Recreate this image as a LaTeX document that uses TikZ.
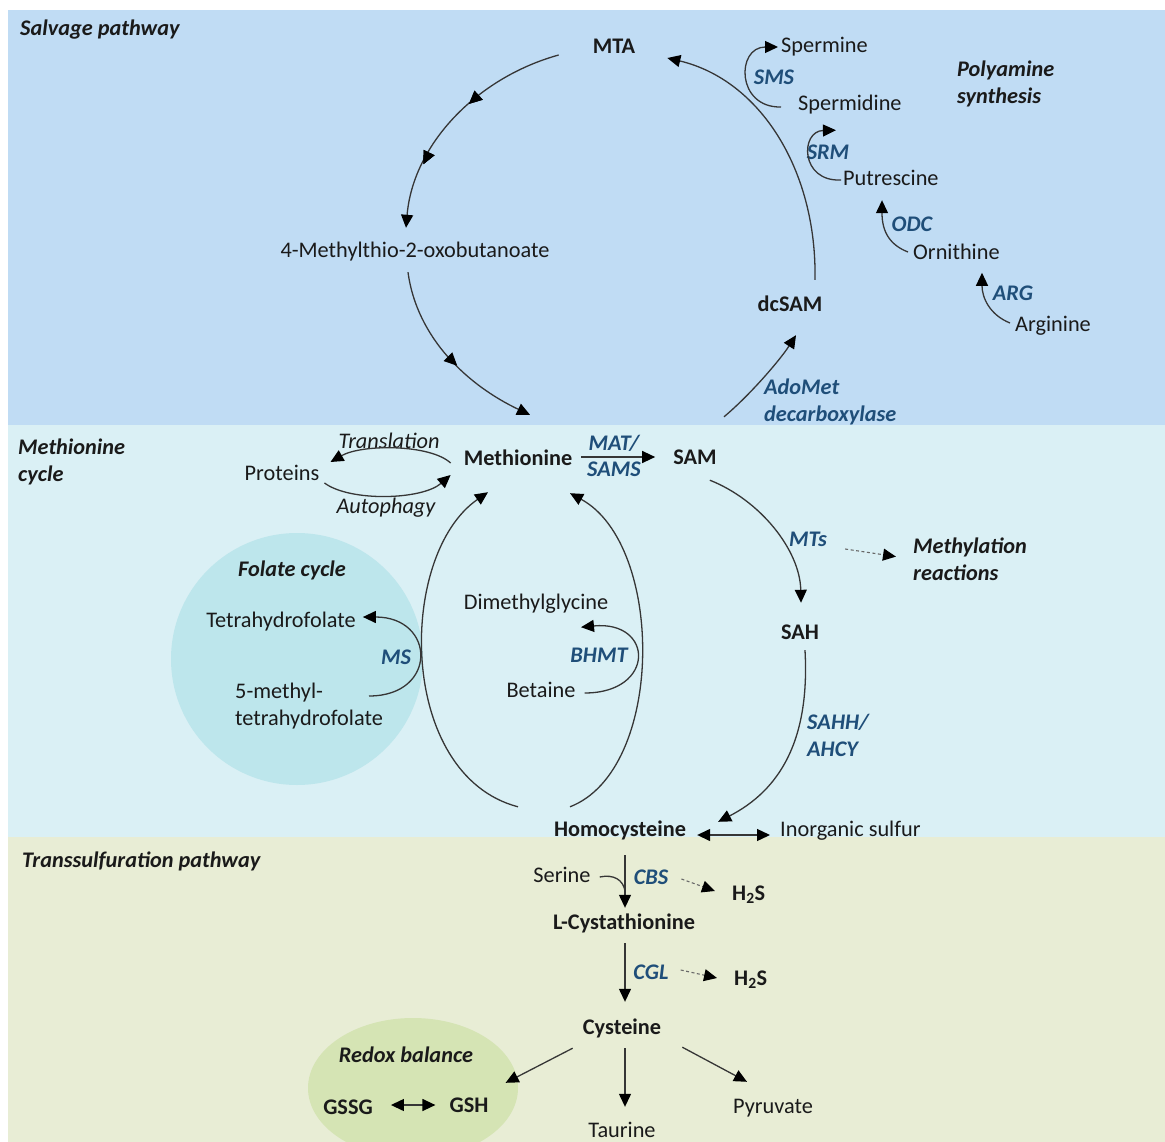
\documentclass[tikz,border=0pt]{standalone}
\usepackage{fontspec}
\setmainfont{Carlito}
\usetikzlibrary{arrows.meta,decorations.markings}
\definecolor{salvbg}{HTML}{C0DCF4}
\definecolor{metbg}{HTML}{DAF0F5}
\definecolor{transbg}{HTML}{E8EDD5}
\definecolor{folbg}{HTML}{BDE6EC}
\definecolor{redbg}{HTML}{D5E4B4}
\definecolor{enz}{HTML}{1F4E79}
\definecolor{ink}{HTML}{1A1A1A}
\definecolor{lncol}{HTML}{363636}
\newcommand{\fsz}{\fontsize{22.3}{27}\selectfont}
\begin{document}
\begin{tikzpicture}[x=1pt,y=-1pt,
  every node/.style={inner sep=0pt,text=ink,font=\fsz},
  txt/.style={text height=14pt,text depth=0pt},
  bld/.style={txt,font=\fsz\bfseries},
  itx/.style={txt,font=\fsz\itshape},
  bix/.style={txt,font=\fsz\bfseries\itshape},
  enzy/.style={txt,font=\fsz\bfseries\itshape,text=enz},
  mlbi/.style={align=left,anchor=north west,font=\fsz\bfseries\itshape},
  plain/.style={draw=lncol,line width=1.3pt},
  arr/.style={plain,-{Triangle[length=13pt,width=12pt,color=black]}},
  darr/.style={plain,{Triangle[length=13pt,width=12pt,color=black]}-{Triangle[length=13pt,width=12pt,color=black]}},
  dsh/.style={draw=lncol!75,line width=1.1pt,dash pattern=on 3pt off 2.5pt,-{Triangle[length=13pt,width=12pt,color=black]}},
  midarr/.style={postaction={decorate},decoration={markings,
     mark=at position #1 with {\arrow{Triangle[length=13pt,width=12pt,color=black]}}}}
]
\useasboundingbox (0,0) rectangle (1165,1142);
\fill[white] (0,0) rectangle (1165,1142);
% panels
\fill[salvbg] (8,10) rectangle (1165,425);
\fill[metbg] (8,425) rectangle (1165,837);
\fill[transbg] (8,837) rectangle (1165,1142);
\fill[folbg] (297,659) ellipse [x radius=126, y radius=126];
\fill[redbg] (413,1088) ellipse [x radius=105, y radius=70];

% ---------- Salvage pathway ----------
\node[bix,anchor=west] (salv) at (20,29) {Salvage pathway};
\node[bld] (mta) at (614,47) {MTA};
\node[txt,anchor=west] (spermine) at (781,46) {Spermine};
\node[enzy] (sms) at (774,78) {SMS};
\node[txt,anchor=west] (spermidine) at (798,104) {Spermidine};
\node[enzy] (srm) at (828,153) {SRM};
\node[txt,anchor=west] (putrescine) at (843,179) {Putrescine};
\node[enzy] (odc) at (912,225) {ODC};
\node[txt,anchor=west] (ornithine) at (913,252) {Ornithine};
\node[enzy] (arg) at (1013,293) {ARG};
\node[txt,anchor=west] (arginine) at (1015,324) {Arginine};
\node[bld] (dcsam) at (790,305) {dcSAM};
\node[mlbi,text=enz] (adomet) at (764,379) {AdoMet\\decarboxylase};
\node[mlbi] (polyamine) at (957,61) {Polyamine\\synthesis};
\node[txt] (mtob) at (415,251) {4-Methylthio-2-oxobutanoate};

% ---------- Methionine cycle ----------
\node[mlbi] (metcyc) at (18,439) {Methionine\\cycle};
\node[itx] (translation) at (389,441) {Translation};
\node[txt] (proteins) at (282,473) {Proteins};
\node[itx] (autophagy) at (386,506) {Autophagy};
\node[bld] (methionine) at (518,458) {Methionine};
\node[enzy] (mat) at (614,443) {MAT/};
\node[enzy] (sams) at (614,469) {SAMS};
\node[bld] (sam) at (695,457) {SAM};
\node[enzy] (mts) at (808,539) {MTs};
\node[mlbi] (methylation) at (913,538) {Methylation\\reactions};
\node[bld] (sah) at (800,632) {SAH};
\node[mlbi,text=enz] (sahh) at (807,714) {SAHH/\\AHCY};
\node[bix] (folatecycle) at (292,569) {Folate cycle};
\node[txt] (thf) at (281,620) {Tetrahydrofolate};
\node[enzy] (ms) at (396,657) {MS};
\node[align=left,anchor=north west] (mthf) at (235,683) {5-methyl-\\tetrahydrofolate};
\node[txt] (dmg) at (536,602) {Dimethylglycine};
\node[enzy] (bhmt) at (599,655) {BHMT};
\node[txt] (betaine) at (541,690) {Betaine};
\node[bld] (homocys) at (620,829) {Homocysteine};
\node[txt,anchor=west] (inorg) at (780,829) {Inorganic sulfur};

% ---------- Transsulfuration ----------
\node[bix,anchor=west] (transs) at (22,860) {Transsulfuration pathway};
\node[txt] (serine) at (562,875) {Serine};
\node[enzy] (cbs) at (651,877) {CBS};
\node[bld,anchor=west] (h2sa) at (732,893) {H\textsubscript{2}S};
\node[bld] (lcys) at (624,922) {L-Cystathionine};
\node[enzy] (cgl) at (651,972) {CGL};
\node[bld,anchor=west] (h2sb) at (734,978) {H\textsubscript{2}S};
\node[bld] (cysteine) at (622,1027) {Cysteine};
\node[bix] (redox) at (406,1055) {Redox balance};
\node[bld] (gssg) at (348,1107) {GSSG};
\node[bld] (gsh) at (469,1105) {GSH};
\node[txt] (taurine) at (622,1130) {Taurine};
\node[txt] (pyruvate) at (773,1106) {Pyruvate};

% ---------- connectors: salvage ----------
\draw[arr,midarr=0.42,midarr=0.73] ([shift={(-34,8)}]mta.west) .. controls (476,78) and (413,145) .. ([shift={(-9,-16)}]mtob.north);
\draw[arr,midarr=0.55] ([shift={(-7,14)}]mtob.south) .. controls (417,339) and (469,386) .. ([shift={(12,-36)}]methionine.north);
\draw[arr] ([shift={(29,-33)}]sam.north) .. controls (750,395) and (780,360) .. ([shift={(6,23)}]dcsam.south);
\draw[arr] ([shift={(25,-18)}]dcsam.north) .. controls (817,170) and (760,80) .. ([shift={(32,11)}]mta.east);
\draw[arr] ([shift={(-17,3)}]spermidine.west) .. controls (736,108) and (736,47) .. ([shift={(-3,1)}]spermine.west);
\draw[arr] ([shift={(-2,1)}]putrescine.west) .. controls (800,182) and (800,131) .. ([shift={(-14,19)}]spermidine.south);
\draw[arr] ([shift={(-5,0)}]ornithine.west) .. controls (890,245) and (882,232) .. ([shift={(39,14)}]putrescine.south west);
\draw[arr] ([shift={(-5,-1)}]arginine.west) .. controls (990,315) and (982,298) .. ([shift={(-31,-13)}]arg.north);

% ---------- connectors: methionine cycle ----------
\draw[arr] ([shift={(-13,5)}]methionine.west) .. controls (430,444) and (362,444) .. ([shift={(11,-11)}]proteins.east);
\draw[arr] ([shift={(5,10)}]proteins.east) .. controls (350,502) and (422,500) .. ([shift={(-13,17)}]methionine.west);
\draw[arr] ([shift={(9,-1)}]methionine.east) -- ([shift={(-18,0)}]sam.west);
\draw[arr] ([shift={(-102,-15)}]homocys.north) .. controls (397,775) and (397,555) .. ([shift={(-30,27)}]methionine.south);
\draw[arr] ([shift={(-50,-15)}]homocys.north) .. controls (665,770) and (665,545) .. ([shift={(52,28)}]methionine.south);
\draw[arr] ([shift={(134,13)}]mthf.north west) .. controls (438,696) and (436,617) .. ([shift={(7,-3)}]thf.east);
\draw[arr] ([shift={(9,3)}]betaine.east) .. controls (656,693) and (654,620) .. ([shift={(45,18)}]dmg.south);
\draw[arr] ([shift={(-7,16)}]sam.south east) .. controls (760,500) and (800,550) .. ([shift={(1,-22)}]sah.north);
\draw[dsh] ([shift={(18,10)}]mts.east) -- ([shift={(-17,-3)}]methylation.west);
\draw[arr] ([shift={(5,11)}]sah.south) .. controls (810,740) and (780,790) .. ([shift={(32,0)}]homocys.north east);
\draw[darr] ([shift={(11,6)}]homocys.east) -- ([shift={(-10,6)}]inorg.west);

% ---------- connectors: transsulfuration ----------
\draw[arr] ([shift={(5,19)}]homocys.south) -- ([shift={(1,-7)}]lcys.north);
\draw[plain] ([shift={(9,2)}]serine.east) .. controls (614,874) and (623,880) .. ([shift={(1,-24)}]lcys.north);
\draw[dsh] ([shift={(13,2)}]cbs.east) -- ([shift={(-17,-2)}]h2sa.west);
\draw[arr] ([shift={(1,14)}]lcys.south) -- ([shift={(3,-18)}]cysteine.north);
\draw[dsh] ([shift={(12,-2)}]cgl.east) -- ([shift={(-17,0)}]h2sb.west);
\draw[arr] ([shift={(-10,14)}]cysteine.south west) -- ([shift={(17,-15)}]gsh.north east);
\draw[arr] ([shift={(3,14)}]cysteine.south) -- ([shift={(3,-16)}]taurine.north);
\draw[arr] ([shift={(21,13)}]cysteine.south east) -- ([shift={(-26,-17)}]pyruvate.north);
\draw[darr] ([shift={(18,-2)}]gssg.east) -- ([shift={(-14,0)}]gsh.west);
\end{tikzpicture}
\end{document}
